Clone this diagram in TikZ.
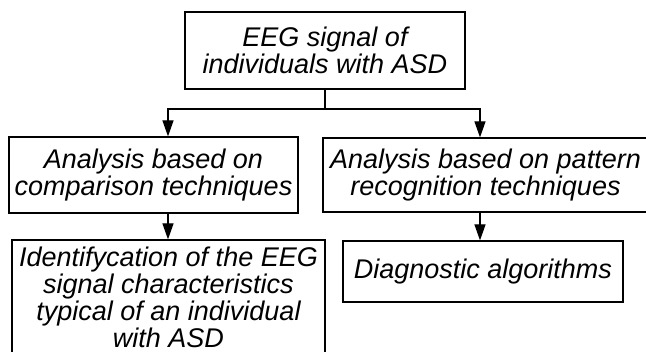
\documentclass[tikz,border=0pt]{standalone}
\usepackage{fontspec}
\setmainfont{Liberation Sans}
\usetikzlibrary{arrows.meta}
\begin{document}
\begin{tikzpicture}[x=1pt,y=-1pt,
 box/.style={draw, line width=1.2pt, inner sep=0pt, align=center, font=\fontsize{27}{27}\selectfont\itshape},
 link/.style={line width=1.2pt},
 arr/.style={line width=1.2pt, -{Triangle[length=16pt,width=11pt]}}]
\useasboundingbox (0,0) rectangle (646,352);
\clip (0,0) rectangle (646,352);
\node[box, minimum width=280pt, minimum height=77pt] (top) at (325,50.5) {EEG signal of\\individuals with ASD};
\node[box, minimum width=289pt, minimum height=76pt] (lm) at (153.5,175) {Analysis based on\\comparison techniques};
\node[box, minimum width=325pt, minimum height=74pt] (rm) at (485.5,175) {Analysis based on pattern\\recognition techniques};
\node[box, minimum width=313pt, minimum height=114pt] (lb) at (168.5,297) {Identifycation of the EEG\\signal characteristics\\typical of an individual\\with ASD};
\node[box, minimum width=280pt, minimum height=61pt] (rb) at (483,271.5) {Diagnostic algorithms};
\coordinate (j) at (325,109);
\coordinate (la) at (168,109);
\coordinate (ra) at (480,109);
\draw[link] (top.south) -- (j);
\draw[arr] (j) -- (la) -- (la |- lm.north);
\draw[arr] (j) -- (ra) -- (ra |- rm.north);
\draw[arr] (lm.south -| la) -- (lb.north -| la);
\draw[arr] (rm.south -| ra) -- (rb.north -| ra);
\end{tikzpicture}
\end{document}
